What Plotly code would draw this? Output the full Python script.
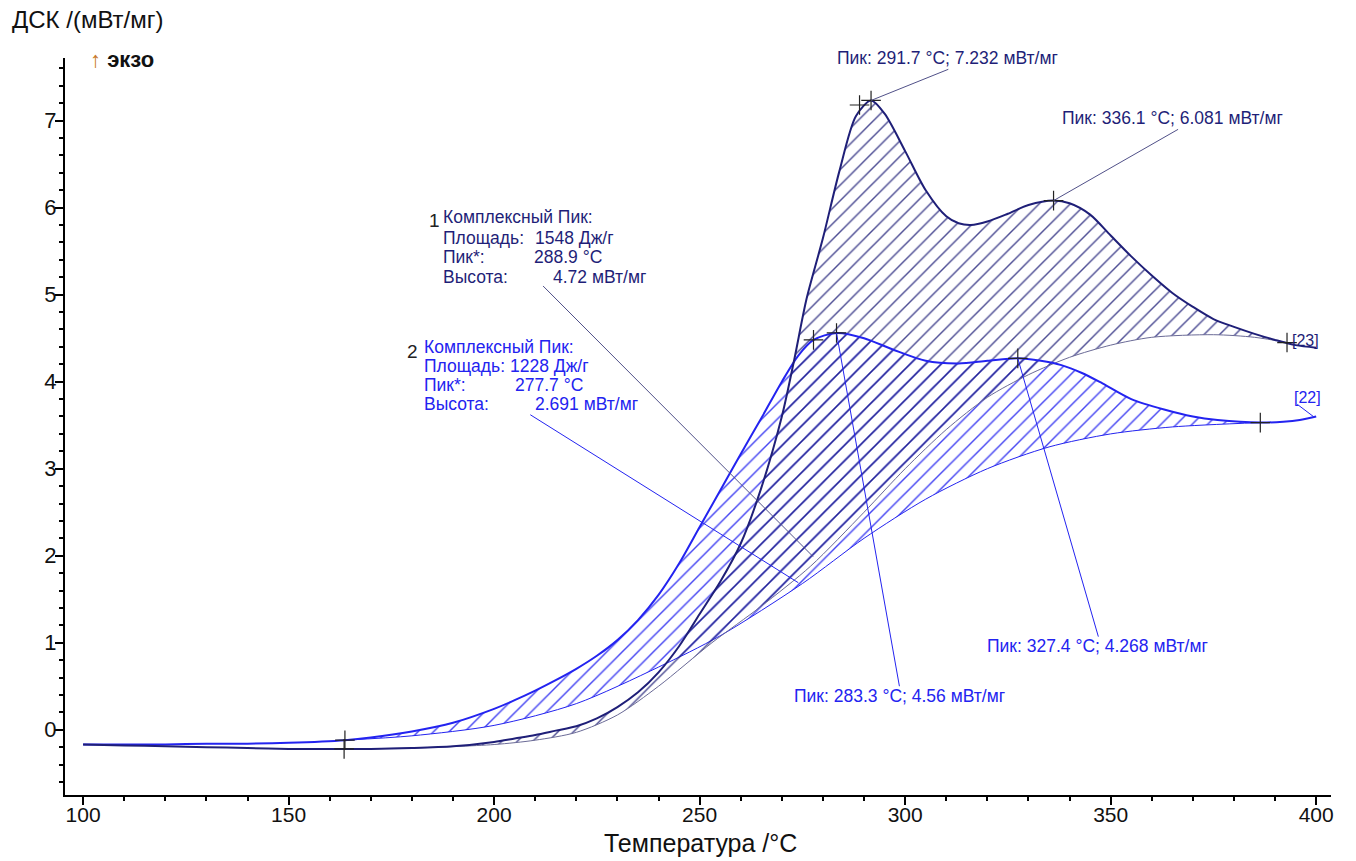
import numpy as np
import plotly.graph_objects as go

# ---------------- data ----------------
# Curve 1 (dark navy, [23])
T1 = [100, 110, 120, 130, 140, 150, 160, 170, 180, 190, 200, 205, 210, 215, 220, 225, 230, 235, 240,
      245, 250, 255, 260, 265, 270, 273, 276, 280, 284, 288, 291.7, 295, 300, 305, 310, 313, 316, 320, 325,
      330, 336.1, 340, 345, 350, 355, 360, 365, 370, 375, 380, 385, 390, 395, 400]
V1 = [-0.17, -0.18, -0.19, -0.2, -0.21, -0.22, -0.22, -0.22, -0.21, -0.19, -0.14, -0.1, -0.06, -0.01, 0.04,
      0.13, 0.26, 0.43, 0.66, 0.96, 1.33, 1.7, 2.14, 2.78, 3.6, 4.25, 4.95, 5.65, 6.42, 7.05, 7.232, 7.08, 6.65,
      6.2, 5.9, 5.82, 5.8, 5.84, 5.93, 6.03, 6.081, 6.05, 5.92, 5.68, 5.44, 5.22, 5.02, 4.86, 4.72, 4.63, 4.55,
      4.48, 4.42, 4.39]

# Curve 2 (blue, [22])
T2 = [100, 110, 120, 130, 140, 150, 163.7, 170, 180, 190, 200, 205, 210, 215, 220, 225, 230, 235, 240, 245,
      250, 255, 260, 265, 270, 274, 277.7, 283.3, 290, 297, 305, 313, 320, 327.4, 333, 338, 343, 348, 355,
      363, 370, 376, 386.4, 392, 396, 400]
V2 = [-0.17, -0.17, -0.17, -0.16, -0.16, -0.15, -0.12, -0.09, -0.02, 0.08, 0.24, 0.34, 0.45, 0.57, 0.70,
      0.85, 1.03, 1.26, 1.55, 1.91, 2.33, 2.75, 3.17, 3.58, 4.0, 4.3, 4.48, 4.56, 4.5, 4.37, 4.24, 4.21, 4.24,
      4.268, 4.24, 4.19, 4.1, 3.98, 3.8, 3.68, 3.6, 3.56, 3.53, 3.54, 3.56, 3.6]

# Integration baselines
B1_T = [163.5, 180, 200, 210, 220, 230, 240, 253, 265, 277, 290, 300, 310, 320, 330, 340, 350, 360, 375, 385, 392.9]
B1_V = [-0.22, -0.21, -0.17, -0.12, -0.03, 0.17, 0.5, 1.0, 1.42, 1.88, 2.5, 3.0, 3.45, 3.82, 4.08, 4.28,
        4.42, 4.51, 4.54, 4.51, 4.45]
B2_T = [163.7, 180, 200, 220, 240, 255, 275, 290, 305, 320, 335, 350, 365, 386.4]
B2_V = [-0.12, -0.07, 0.05, 0.3, 0.72, 1.08, 1.68, 2.2, 2.65, 3.0, 3.25, 3.4, 3.48, 3.53]

# Marker points (limits, Пик*, peaks)
M1_T = [163.5, 288.9, 291.7, 336.1, 392.9]
M1_V = [-0.22, 7.18, 7.232, 6.081, 4.45]
M2_T = [163.7, 277.7, 283.3, 327.4, 386.4]
M2_V = [-0.12, 4.48, 4.56, 4.268, 3.53]

X_TICKS = [100, 150, 200, 250, 300, 350, 400]
Y_TICKS = [0, 1, 2, 3, 4, 5, 6, 7]

NAVY = "#1f1f78"
BLUE = "#2323f0"
FONT = "Liberation Sans, Arial, sans-serif"
TS = 17.5


def segment(T, V, lo, hi):
    T = np.asarray(T, float)
    V = np.asarray(V, float)
    mask = (T > lo) & (T < hi)
    ts = np.concatenate([[lo], T[mask], [hi]])
    vs = np.concatenate([[np.interp(lo, T, V)], V[mask], [np.interp(hi, T, V)]])
    return ts, vs


fig = go.Figure()

SM = 0.8
# --- curve 2 hatched area ---
fig.add_trace(go.Scatter(x=B2_T, y=B2_V, mode="lines", line=dict(color=BLUE, width=1, shape="spline", smoothing=SM),
                         hoverinfo="skip", showlegend=False))
s2t, s2v = segment(T2, V2, B2_T[0], B2_T[-1])
fig.add_trace(go.Scatter(x=s2t, y=s2v, mode="lines", line=dict(width=0, shape="spline", smoothing=SM),
                         fill="tonexty", fillcolor="rgba(0,0,0,0)",
                         fillpattern=dict(shape="/", size=11, solidity=0.13, fgcolor=BLUE, fgopacity=0.85,
                                          bgcolor="rgba(0,0,0,0)"),
                         hoverinfo="skip", showlegend=False))
# --- curve 1 hatched area ---
fig.add_trace(go.Scatter(x=B1_T, y=B1_V, mode="lines", line=dict(color="#6a6a96", width=1, shape="spline", smoothing=SM),
                         hoverinfo="skip", showlegend=False))
s1t, s1v = segment(T1, V1, B1_T[0], B1_T[-1])
fig.add_trace(go.Scatter(x=s1t, y=s1v, mode="lines", line=dict(width=0, shape="spline", smoothing=SM),
                         fill="tonexty", fillcolor="rgba(0,0,0,0)",
                         fillpattern=dict(shape="/", size=11, solidity=0.13, fgcolor=NAVY, fgopacity=0.8,
                                          bgcolor="rgba(0,0,0,0)"),
                         hoverinfo="skip", showlegend=False))
# --- main curves ---
fig.add_trace(go.Scatter(x=T2, y=V2, mode="lines", line=dict(color=BLUE, width=2, shape="spline", smoothing=SM),
                         name="[22]", showlegend=False))
fig.add_trace(go.Scatter(x=T1, y=V1, mode="lines", line=dict(color=NAVY, width=2, shape="spline", smoothing=SM),
                         name="[23]", showlegend=False))
# --- markers ---
for mt, mv in ((M1_T, M1_V), (M2_T, M2_V)):
    fig.add_trace(go.Scatter(x=mt, y=mv, mode="markers",
                             marker=dict(symbol="cross-thin", size=14, line=dict(color="#222222", width=1.2)),
                             hoverinfo="skip", showlegend=False))

anns = []
shapes = []


def txt(x, y, s, color, size=TS, xanchor="left"):
    anns.append(dict(x=x, y=y, xref="x", yref="y", text=s, showarrow=False, xanchor=xanchor,
                     yanchor="middle", font=dict(family=FONT, size=size, color=color)))


def leader(x0, y0, x1, y1, color):
    shapes.append(dict(type="line", xref="x", yref="y", x0=x0, y0=y0, x1=x1, y1=y1,
                       line=dict(color=color, width=1)))


# Peak labels
txt(283.0, 7.72, "Пик: 291.7 °C; 7.232 мВт/мг", NAVY)
leader(291.7, 7.232, 310.5, 7.59, "#505088")
txt(337.7, 7.03, "Пик: 336.1 °C; 6.081 мВт/мг", NAVY)
leader(336.1, 6.081, 366.4, 6.90, "#505088")
txt(272.5, 0.383, "Пик: 283.3 °C; 4.56 мВт/мг", BLUE)
leader(283.3, 4.56, 298.6, 0.50, BLUE)
txt(319.5, 0.957, "Пик: 327.4 °C; 4.268 мВт/мг", BLUE)
leader(327.4, 4.268, 347.0, 1.07, BLUE)

# Complex peak block 1
txt(183.7, 5.854, "1", "#222222", size=19)
txt(187.1, 5.897, "Комплексный Пик:", NAVY)
txt(187.1, 5.655, "Площадь:", NAVY)
txt(209.4, 5.655, "1548 Дж/г", NAVY)
txt(187.1, 5.437, "Пик*:", NAVY)
txt(209.2, 5.437, "288.9 °C", NAVY)
txt(187.1, 5.207, "Высота:", NAVY)
txt(213.9, 5.207, "4.72 мВт/мг", NAVY)
leader(211.9, 5.10, 277.6, 1.99, "#505088")

# Complex peak block 2
txt(178.3, 4.345, "2", "#222222", size=19)
txt(182.5, 4.402, "Комплексный Пик:", BLUE)
txt(182.5, 4.178, "Площадь:", BLUE)
txt(203.4, 4.178, "1228 Дж/г", BLUE)
txt(182.5, 3.966, "Пик*:", BLUE)
txt(204.6, 3.966, "277.7 °C", BLUE)
txt(182.5, 3.741, "Высота:", BLUE)
txt(209.4, 3.741, "2.691 мВт/мг", BLUE)
leader(208.8, 3.62, 274.0, 1.69, BLUE)

# Curve end labels
txt(393.7, 4.47, "[23]", NAVY, size=16)
txt(394.2, 3.82, "[22]", BLUE, size=16)
leader(395.4, 3.74, 399.3, 3.60, BLUE)

# Axis titles
anns.append(dict(xref="paper", yref="paper", x=-0.0434, y=1.0516, xanchor="left", yanchor="middle",
                 text="ДСК /(мВт/мг)", showarrow=False, font=dict(family=FONT, size=24, color="#111111")))
anns.append(dict(xref="paper", yref="paper", x=0.0182, y=0.9973, xanchor="left", yanchor="middle",
                 text="<span style='color:#c8782a'>↑</span> <b>экзо</b>", showarrow=False,
                 font=dict(family=FONT, size=22, color="#111111")))
anns.append(dict(xref="paper", yref="paper", x=0.5016, y=-0.0651, xanchor="center", yanchor="middle",
                 text="Температура /°C", showarrow=False, font=dict(family=FONT, size=25, color="#111111")))

fig.update_layout(
    width=1356, height=861,
    margin=dict(l=65, r=25, t=58, b=66),
    paper_bgcolor="white", plot_bgcolor="white",
    font=dict(family=FONT, size=21, color="#111111"),
    annotations=anns, shapes=shapes,
    xaxis=dict(range=[95.6, 403.6], tickvals=X_TICKS, ticks="outside", ticklen=8, tickwidth=2,
               tickcolor="black", showline=True, linecolor="black", linewidth=2, showgrid=False,
               zeroline=False, tickfont=dict(size=21), ticklabelstandoff=-8,
               minor=dict(dtick=10, tick0=100, ticks="outside", ticklen=4, tickwidth=2, tickcolor="black")),
    yaxis=dict(range=[-0.75, 7.72], tickvals=Y_TICKS, ticks="outside", ticklen=8, tickwidth=2,
               tickcolor="black", showline=True, linecolor="black", linewidth=2, showgrid=False,
               zeroline=False, tickfont=dict(size=22), ticklabelstandoff=-6,
               minor=dict(dtick=0.2, tick0=0, ticks="outside", ticklen=4, tickwidth=2, tickcolor="black")),
)

fig.write_html("out.html", config={"displayModeBar": False},
               post_script="document.body.style.margin='0';document.body.style.overflow='hidden';")
